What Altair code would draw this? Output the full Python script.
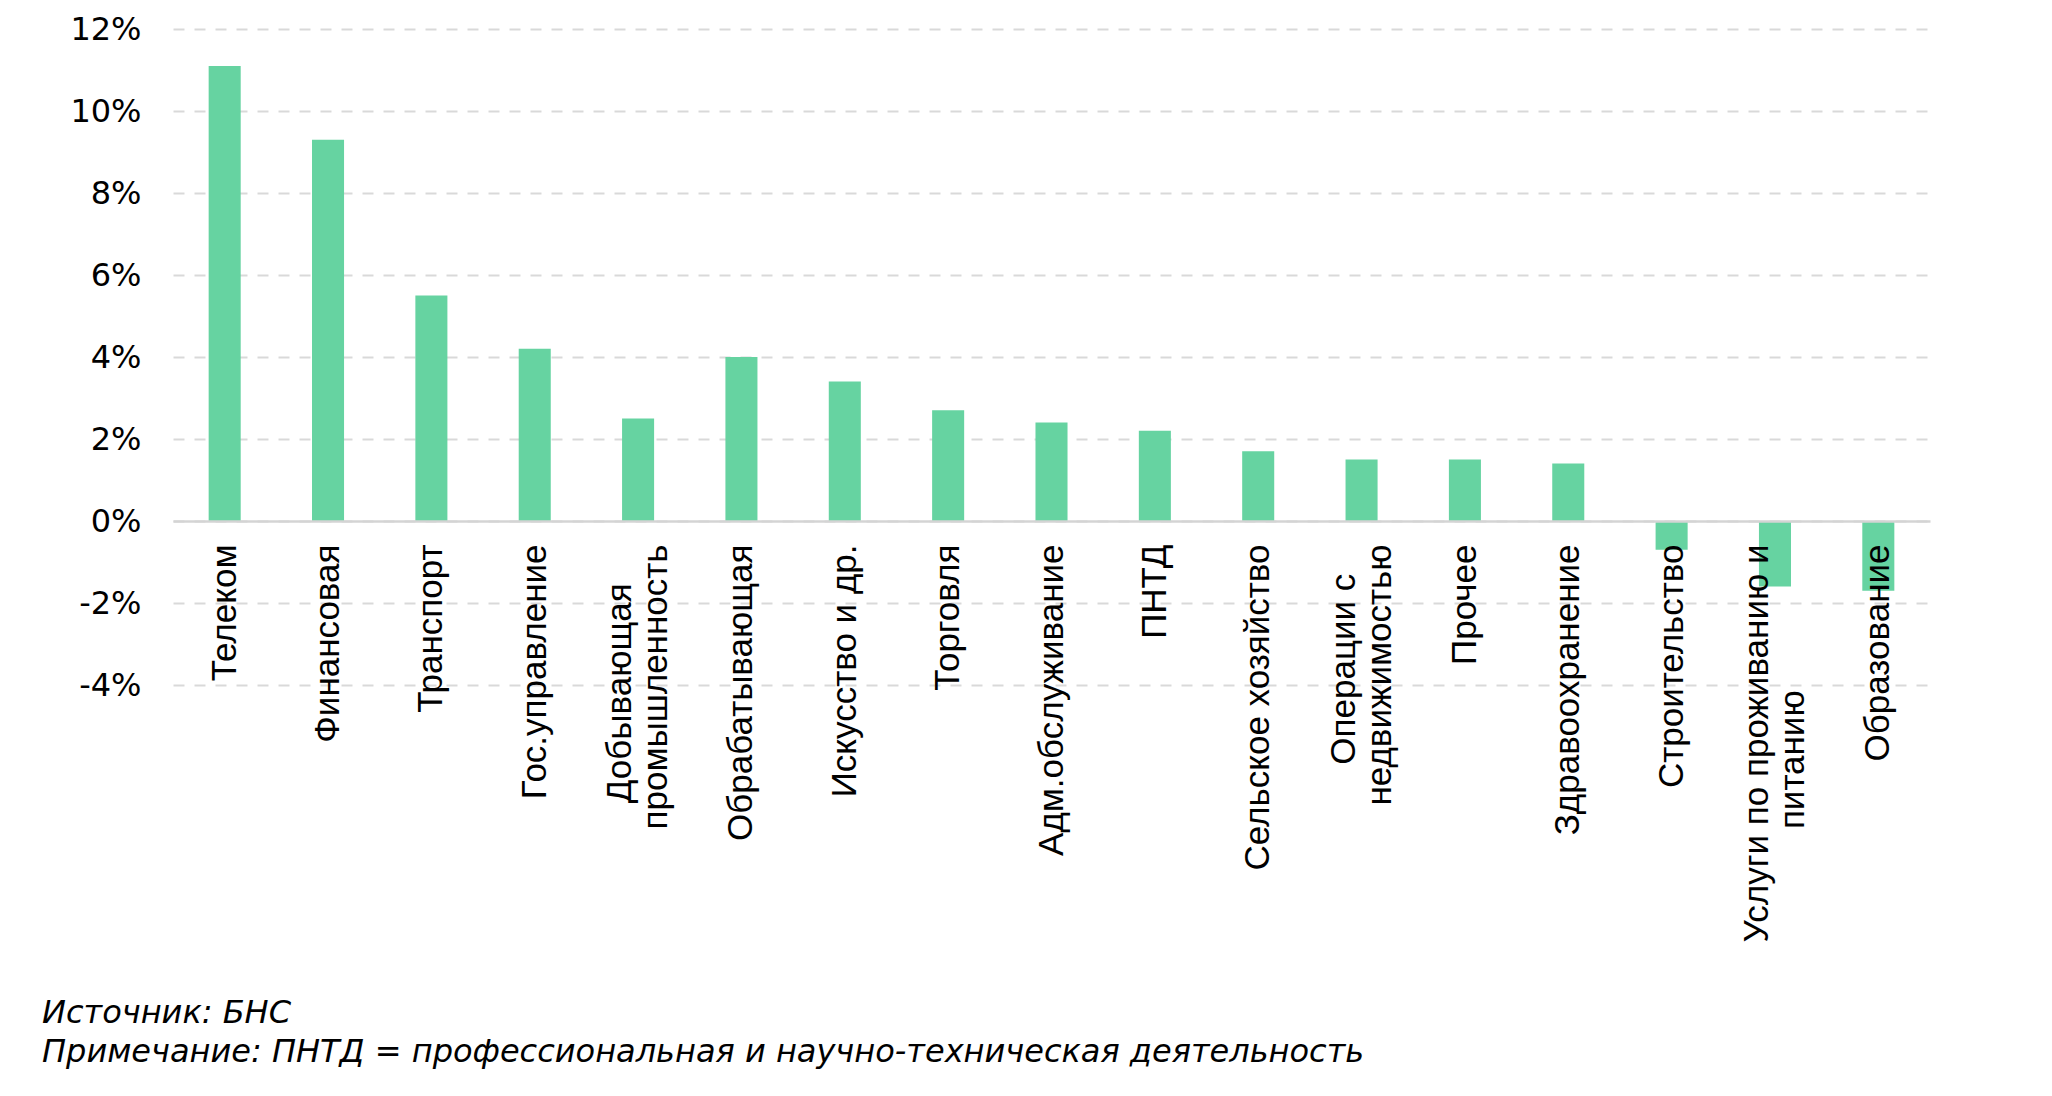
import altair as alt
import pandas as pd

categories = [
    "Телеком", "Финансовая", "Транспорт", "Гос.управление",
    "Добывающая\nпромышленность", "Обрабатывающая", "Искусство и др.",
    "Торговля", "Адм.обслуживание", "ПНТД", "Сельское хозяйство",
    "Операции с\nнедвижимостью", "Прочее", "Здравоохранение",
    "Строительство", "Услуги по проживанию и\nпитанию", "Образование",
]
values = [11.1, 9.3, 5.5, 4.2, 2.5, 4.0, 3.4, 2.7, 2.4, 2.2, 1.7, 1.5, 1.5,
          1.4, -0.7, -1.6, -1.7]
y_ticks = [-4, -2, 0, 2, 4, 6, 8, 10, 12]
notes = [
    "Источник: БНС",
    "Примечание: ПНТД = профессиональная и научно-техническая деятельность",
]


def centre_lines(label):
    # pad shorter lines with no-break spaces (kept by a trailing zero-width
    # character) so that the lines of a wrapped label look centred
    lines = label.split("\n")
    if len(lines) == 1:
        return label
    m = max(len(l) for l in lines)
    return "\n".join(
        l + ("\u00a0" * round(m - len(l)) + "\u200b" if len(l) < m else "")
        for l in lines
    )


labels = [centre_lines(c) for c in categories]
df = pd.DataFrame({"label": labels, "value": values})

W, H = 1757, 656
LINE_H = 36

bars = alt.Chart(df).mark_bar(color="#66D3A1").encode(
    x=alt.X(
        "label:N",
        sort=labels,
        title=None,
        scale=alt.Scale(paddingInner=0.69, paddingOuter=0.345),
        axis=alt.Axis(
            labelAngle=-90,
            labelFont="Liberation Sans",
            labelFontSize=35,
            labelColor="black",
            labelLineHeight=LINE_H,
            labelPadding=23,
            labelExpr="split(datum.label, '\\n')",
            labelOffset={
                "condition": {
                    "test": "indexof(datum.value, '\\n') >= 0",
                    "value": -LINE_H / 2,
                },
                "value": 0,
            },
            labelLimit=1000,
            ticks=False,
            domainColor="#d4d4d4",
            domainWidth=2.5,
            grid=False,
            offset=-H * 4 / 16,
            zindex=1,
        ),
    ),
    y=alt.Y(
        "value:Q",
        title=None,
        scale=alt.Scale(domain=[-4, 12], nice=False, zero=False),
        axis=alt.Axis(
            values=y_ticks,
            labelExpr="datum.value + '%'",
            labelFont="DejaVu Sans",
            labelFontSize=32,
            labelColor="black",
            labelPadding=32,
            ticks=False,
            domain=False,
            grid=True,
            gridColor="#d9d9d9",
            gridWidth=2,
            gridDash=[11, 10],
        ),
    ),
)

chart = bars.properties(
    width=W,
    height=H,
    background="white",
    title=alt.TitleParams(
        text=notes,
        orient="bottom",
        anchor="start",
        frame="group",
        dx=-131,
        offset=56,
        font="DejaVu Sans",
        fontSize=32,
        fontStyle="italic",
        fontWeight="normal",
        lineHeight=39,
        color="black",
    ),
    autosize=alt.AutoSizeParams(type="none"),
    padding={"left": 165, "top": 21, "right": 100, "bottom": 395},
).configure_view(stroke=None)

chart.save("out.html", embed_options={"renderer": "svg", "actions": False})
